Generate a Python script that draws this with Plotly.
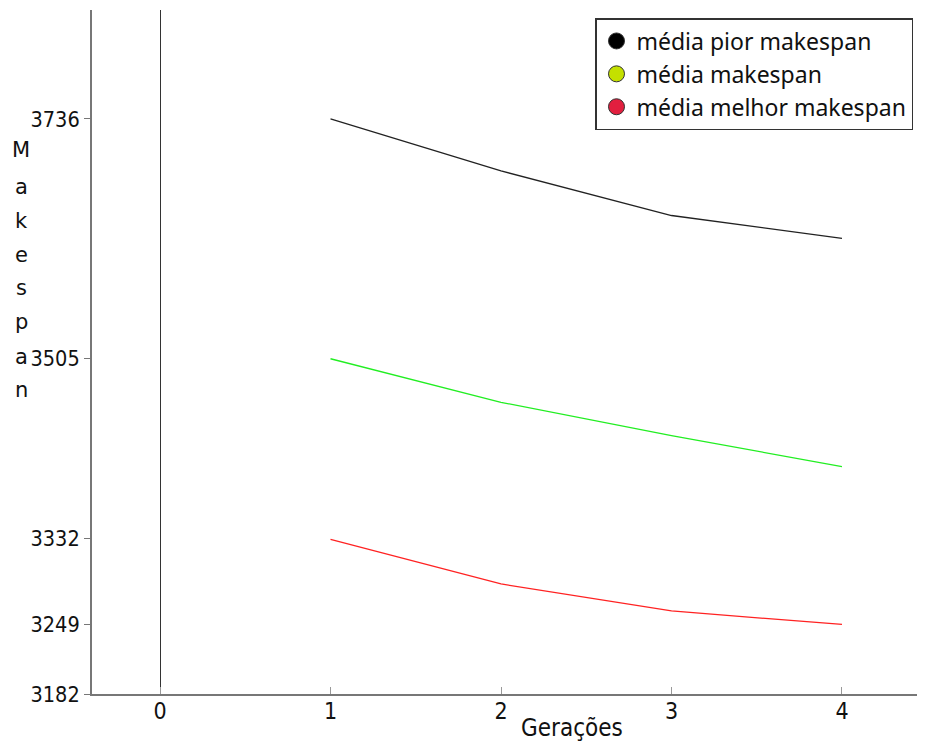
import plotly.graph_objects as go

geracoes = [1, 2, 3, 4]
pior = [3736, 3686, 3643, 3621]
media = [3505, 3463, 3431, 3401]
melhor = [3331, 3288, 3262, 3249]
ytick_vals = [3182, 3249, 3332, 3505, 3736]
xtick_vals = [0, 1, 2, 3, 4]
names = ["média pior makespan", "média makespan", "média melhor makespan"]
line_colors = ["#222222", "#22ee22", "#ff2222"]
marker_colors = ["#000000", "#c4e000", "#e21f3f"]

fig = go.Figure()
for ys, lc in zip([pior, media, melhor], line_colors):
    fig.add_trace(go.Scatter(x=geracoes, y=ys, mode="lines",
                             line=dict(color=lc, width=1.3), showlegend=False,
                             hoverinfo="x+y"))
for nm, mc in zip(names, marker_colors):
    fig.add_trace(go.Scatter(x=[None], y=[None], mode="markers", name=nm,
                             marker=dict(color=mc, size=22,
                                         line=dict(color="#333333", width=1))))

yfont = dict(family="DejaVu Sans Condensed, Liberation Sans Narrow, sans-serif",
             size=21.5, color="#111111")
xfont = dict(family="DejaVu Sans Condensed, Liberation Sans Narrow, sans-serif",
             size=23, color="#111111")

# page body has an 8px margin, so the figure is sized to fit the 925x744 window
W, H = 917, 736
ML, MT, MB = 84, 2, 50
PW, PH = W - ML, H - MT - MB

fig.update_layout(
    width=W, height=H,
    margin=dict(l=ML, r=0, t=MT, b=MB),
    plot_bgcolor="white", paper_bgcolor="white",
    showlegend=True,
    legend=dict(x=(595 - 92) / PW, y=(694 - 18) / PH, xanchor="left", yanchor="top",
                bgcolor="white", bordercolor="#333333", borderwidth=1.5,
                font=dict(family="Noto Sans, Open Sans, sans-serif", size=23, color="#111111"),
                itemsizing="trace", tracegroupgap=0),
    xaxis=dict(range=[-0.399, 4.487], tickvals=xtick_vals,
               ticktext=[str(v) for v in xtick_vals],
               showgrid=False, zeroline=True, zerolinecolor="#333333", zerolinewidth=1,
               showline=True, linecolor="#777777", linewidth=2,
               ticks="inside", ticklen=7, tickcolor="#999999",
               ticklabelstandoff=-5,
               tickfont=xfont),
    yaxis=dict(range=[3182, 3841], tickvals=ytick_vals,
               ticktext=[str(v) for v in ytick_vals],
               showgrid=False, zeroline=False,
               showline=True, linecolor="#777777", linewidth=2,
               ticks="outside", ticklen=6, tickcolor="#777777",
               tickfont=yfont),
)

fig.add_annotation(text="Gerações", xref="paper", yref="paper",
                   x=(572 - 92) / PW, y=-(728 - 694) / PH,
                   showarrow=False, xanchor="center", yanchor="middle",
                   font=dict(family="DejaVu Sans Condensed, sans-serif", size=24, color="#111111"))

letters = list("Makespan")
ypix = [150, 187, 221, 255, 288, 322, 357, 390]
for ch, yp in zip(letters, ypix):
    fig.add_annotation(text=ch, xref="paper", yref="paper",
                       x=(21 - 92) / PW, y=(694 - yp) / PH,
                       showarrow=False, xanchor="center", yanchor="middle",
                       font=dict(family="DejaVu Sans, sans-serif", size=21, color="#111111"))

fig.write_html("out.html")
